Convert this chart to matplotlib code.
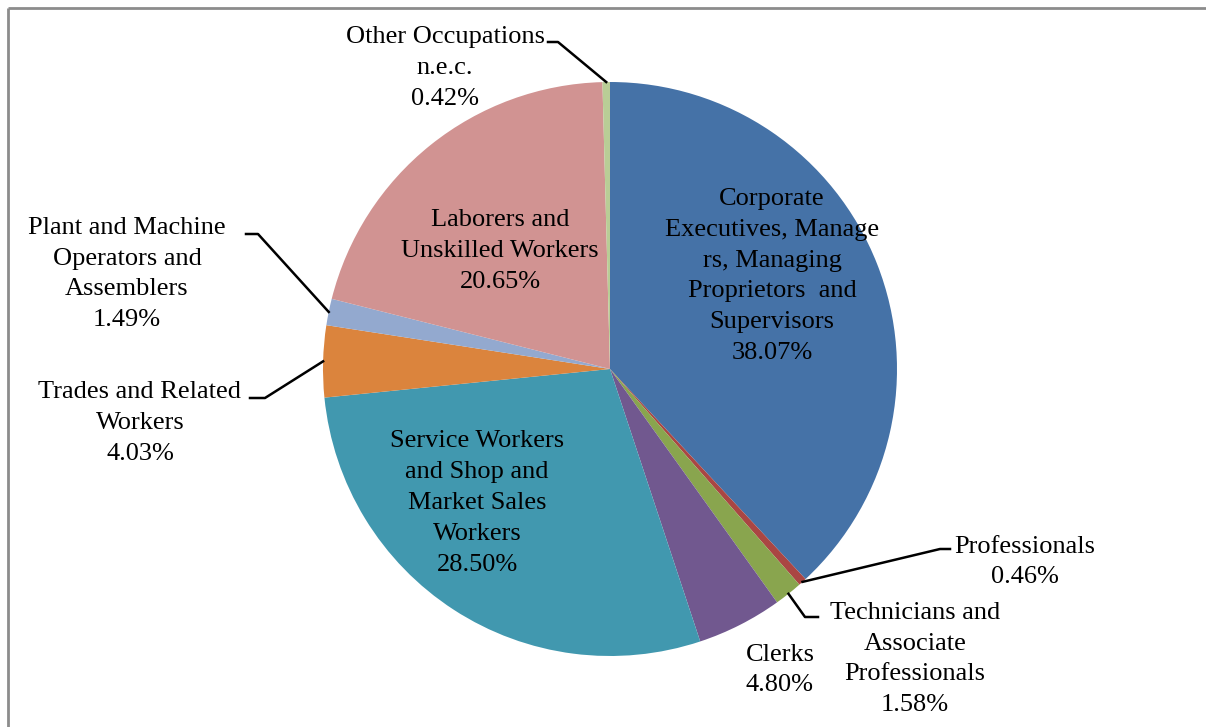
import numpy as np
import matplotlib
matplotlib.use("Agg")
import matplotlib.pyplot as plt

# data
categories = [
    "Corporate\nExecutives, Manage\nrs, Managing\nProprietors  and\nSupervisors",
    "Professionals",
    "Technicians and\nAssociate\nProfessionals",
    "Clerks",
    "Service Workers\nand Shop and\nMarket Sales\nWorkers",
    "Trades and Related\nWorkers",
    "Plant and Machine\nOperators and\nAssemblers",
    "Laborers and\nUnskilled Workers",
    "Other Occupations\nn.e.c.",
]
shares = [38.07, 0.46, 1.58, 4.80, 28.50, 4.03, 1.49, 20.65, 0.42]
colors = ["#4572A7", "#AA4643", "#89A54E", "#71588F", "#4198AF",
          "#DB843D", "#93A9CF", "#D19392", "#B9CD96"]

W, H = 1206, 727
CX, CY, R = 610, 369, 287  # pie centre / radius in pixels (y from top)

# label placement (pixel centres, y from top) and leader elbows (None = inside)
label_pos = [(772, 276), (1025, 562), (915, 659), (780, 670), (477, 503),
             (140, 423), (127, 274), (500, 251), (445, 68)]
elbows = [None, (940, 549), (805, 617), None, None,
          (265, 398), (258, 234), None, (558, 42)]
elbow_end = [None, 950, 818, None, None, 250, 246, None, 548]

plt.rcParams["font.family"] = ["Liberation Serif", "DejaVu Serif"]

fig = plt.figure(figsize=(W / 100, H / 100), dpi=100)
ax = fig.add_axes([0, 0, 1, 1])

ax.pie(shares, colors=colors, startangle=90, counterclock=False,
       center=(CX, H - CY), radius=R,
       wedgeprops=dict(linewidth=0))
ax.set_xlim(0, W)
ax.set_ylim(0, H)
ax.set_aspect("auto")
ax.axis("off")

# frame lines on top and left, as in the cropped original
ax.plot([7.5, 7.5], [0, H - 7.5], color="#8c8c8c", lw=2, solid_capstyle="butt")
ax.plot([7.5, W], [H - 7.5, H - 7.5], color="#8c8c8c", lw=2, solid_capstyle="butt")

cum = np.cumsum([0] + shares[:-1])
for i, (name, v) in enumerate(zip(categories, shares)):
    lx, ly = label_pos[i]
    ax.text(lx, H - ly, f"{name}\n{v:.2f}%", ha="center", va="center",
            fontsize=19, linespacing=1.52, color="black")
    if elbows[i] is not None:
        mid = (cum[i] + v / 2) / 100 * 2 * np.pi
        px = CX + R * np.sin(mid)
        py = CY - R * np.cos(mid)
        ex, ey = elbows[i]
        ax.plot([px, ex, elbow_end[i]], [H - py, H - ey, H - ey],
                color="black", lw=1.8)

fig.savefig("out.png", dpi=100)
